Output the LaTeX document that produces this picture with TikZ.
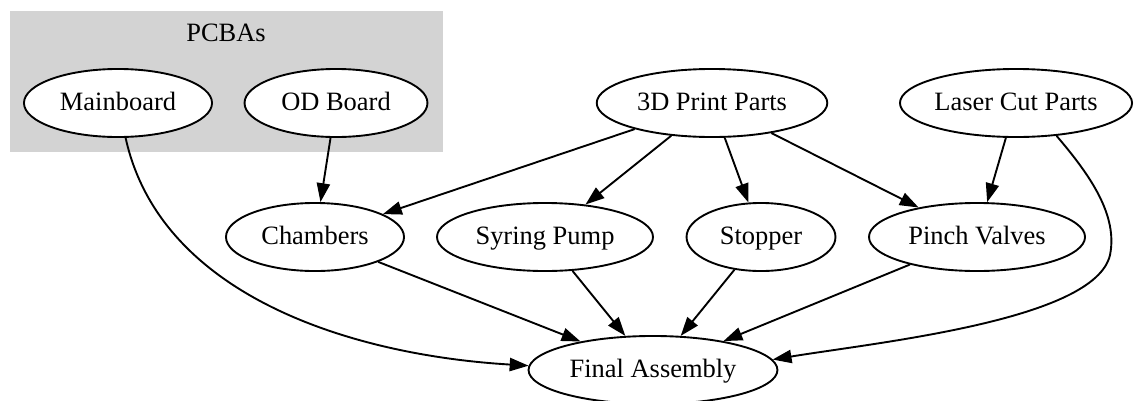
\documentclass[tikz,border=0pt]{standalone}
\usepackage{fontspec}
\setmainfont{Liberation Serif}
\usetikzlibrary{shapes.geometric, arrows.meta}

\definecolor{lightgrey}{RGB}{211,211,211}

\tikzset{
  part/.style={ellipse, draw, fill=white, line width=1pt, inner sep=0pt, minimum height=36pt,
    text height=11.4pt, text depth=3pt, font=\fontsize{14}{16}\selectfont},
  link/.style={line width=1pt, -{Triangle[length=10pt,width=7pt]}},
}

\begin{document}
\begin{tikzpicture}[x=0.5291pt, y=-0.5291pt]
\fill [white] (0,0) rectangle (1138,400);
\useasboundingbox (0,0) rectangle (1138,400);

% board cluster
\fill [lightgrey] (10,11) rectangle (443,152);
\node (pcbas) at (226,34) [text height=11.4pt, text depth=3pt, font=\fontsize{14}{16}\selectfont] {PCBAs};

\node (main) at (118,103) [part, minimum width=99.5pt] {Mainboard};
\node (odb) at (336,103) [part, minimum width=96.8pt] {OD Board};
\node (print) at (712,103) [part, minimum width=122pt] {3D Print Parts};
\node (laser) at (1016,103) [part, minimum width=122.8pt] {Laser Cut Parts};

\node (chambers) at (315,237) [part, minimum width=94.2pt] {Chambers};
\node (pump) at (545,237) [part, minimum width=114.3pt] {Syring Pump};
\node (stopper) at (761,237) [part, minimum width=78.8pt] {Stopper};
\node (valves) at (977,237) [part, minimum width=114.3pt] {Pinch Valves};

\node (final) at (653,370) [part, minimum width=131.7pt] {Final Assembly};

\draw [link] (odb) edge (chambers)
  (print) edge (chambers) (print) edge (pump)
  (print) edge (stopper) (print) edge (valves)
  (laser) edge (valves)
  (chambers) edge (final) (pump) edge (final)
  (stopper) edge (final) (valves) edge (final);

% long edges around the sides
\draw [link] (main) .. controls (160,295) and (350,355) .. (final.178);
\draw [link] (laser.-39) .. controls (1090,175) and (1118,215) .. (1110,255)
  .. controls (1095,320) and (880,342) .. (final.5);
\end{tikzpicture}
\end{document}
